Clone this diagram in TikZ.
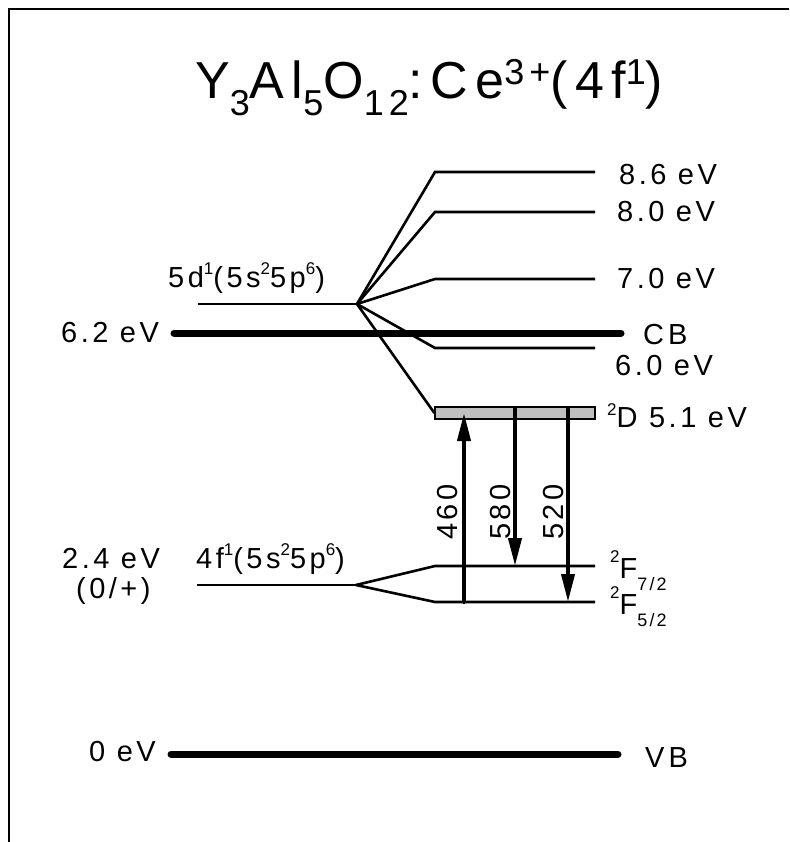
\documentclass[tikz,border=0pt]{standalone}
\usepackage{fontspec}
\setmainfont{Liberation Sans}[LetterSpace=12]
\usetikzlibrary{arrows.meta}
\newcommand\TSub[1]{\lower17pt\hbox{\fontsize{36}{36}\selectfont #1}}
\newcommand\TSup[1]{\raise14pt\hbox{\fontsize{36}{36}\selectfont #1}}
\newcommand\LSup[2][13pt]{\raise#1\hbox{\fontsize{17}{17}\selectfont #2}}
\newcommand\LSub[1]{\lower12pt\hbox{\fontsize{18}{18}\selectfont #1}}
\begin{document}
\begin{tikzpicture}[x=1pt,y=-1pt,
  lvl/.style={line width=2.6pt},
  band/.style={line width=7pt, line cap=round},
  tr/.style={line width=4pt, line cap=round, -{Triangle[length=28pt,width=13pt]}},
  lbl/.style={anchor=base west, inner sep=0pt, font=\fontsize{29}{29}\selectfont},
  vlbl/.style={rotate=90, inner sep=0pt, font=\fontsize{29}{29}\selectfont},
  box/.style={draw, fill=gray!50, line width=1.3pt, inner sep=0pt, minimum width=160pt, minimum height=12pt}
]
\useasboundingbox (0,0) rectangle (789,842);
% frame
\coordinate (fb) at (9,842); \coordinate (fc) at (9,9); \coordinate (fr) at (789,9);
\draw[line width=2pt] (fb) -- (fc) -- (fr);
% title
\node[anchor=base west, inner sep=0pt, font=\fontsize{52}{52}\selectfont\addfontfeature{LetterSpace=14}] (title) at (195,99)
  {Y\TSub{3}Al\TSub{5}O\TSub{12}:Ce\TSup{3+}(4f\TSup{1})};
% coordinates
\coordinate (d5L) at (198,304); \coordinate (d5J) at (357,304);
\coordinate (a86L) at (435,172); \coordinate (a86R) at (595,172);
\coordinate (a80L) at (435,212); \coordinate (a80R) at (595,212);
\coordinate (a70L) at (435,279); \coordinate (a70R) at (595,279);
\coordinate (a60L) at (435,348); \coordinate (a60R) at (595,348);
\coordinate (cbL) at (174,333); \coordinate (cbR) at (621,333);
\coordinate (vbL) at (171,754); \coordinate (vbR) at (618,754);
\coordinate (f4L) at (197,585); \coordinate (f4J) at (356,585);
\coordinate (f7L) at (435,566); \coordinate (f7R) at (595,566);
\coordinate (f5L) at (435,602); \coordinate (f5R) at (595,602);
% 5d levels
\draw[lvl] (d5L) -- (d5J);
\draw[lvl] (d5J) -- (a86L) -- (a86R);
\draw[lvl] (d5J) -- (a80L) -- (a80R);
\draw[lvl] (d5J) -- (a70L) -- (a70R);
\draw[lvl] (d5J) -- (a60L) -- (a60R);
% bands
\draw[band] (cbL) -- (cbR);
\draw[band] (vbL) -- (vbR);
% 2D box
\node[box] (D) at (515,413) {};
\draw[lvl] (d5J) -- (D.west);
% 4f levels
\draw[lvl] (f4L) -- (f4J);
\draw[lvl] (f4J) -- (f7L) -- (f7R);
\draw[lvl] (f4J) -- (f5L) -- (f5R);
% transitions
\coordinate (t1s) at (464,602); \coordinate (t1e) at (464,413);
\coordinate (t2s) at (515,409); \coordinate (t2e) at (515,566);
\coordinate (t3s) at (568,409); \coordinate (t3e) at (568,602);
\draw[tr] (t1s) -- (t1e);
\draw[tr] (t2s) -- (t2e);
\draw[tr] (t3s) -- (t3e);
\node[vlbl] (l460) at (448,512) {460};
\node[vlbl] (l580) at (501,512) {580};
\node[vlbl] (l520) at (554,512) {520};
% labels
\node[lbl] (t86) at (619,185) {8.6 eV};
\node[lbl] (t80) at (617,222) {8.0 eV};
\node[lbl] (t70) at (617,288) {7.0 eV};
\node[lbl] (tcb) at (643,344) {C\hspace{4pt}B};
\node[lbl] (t60) at (615,375) {6.0 eV};
\node[lbl] (t51) at (607,427) {\LSup[12pt]{2}D 5.1 eV};
\node[lbl] (tf7) at (610,578) {\LSup[16pt]{2}F\LSub{7/2}};
\node[lbl] (tf5) at (610,614) {\LSup[16pt]{2}F\LSub{5/2}};
\node[lbl] (tvb) at (645,767) {V\hspace{4pt}B};
\node[lbl] (t62) at (61,342) {6.2 eV};
\node[lbl] (t24) at (62,568) {2.4 eV};
\node[lbl] (t0p) at (76,598) {(0/+)};
\node[lbl] (t00) at (89,761) {0 eV};
\node[lbl] (t5d) at (168,287) {5d\LSup{1}(5s\LSup{2}5p\LSup{6})};
\node[lbl] (t4f) at (196,568) {4f\LSup{1}(5s\LSup{2}5p\LSup{6})};
\end{tikzpicture}
\end{document}
